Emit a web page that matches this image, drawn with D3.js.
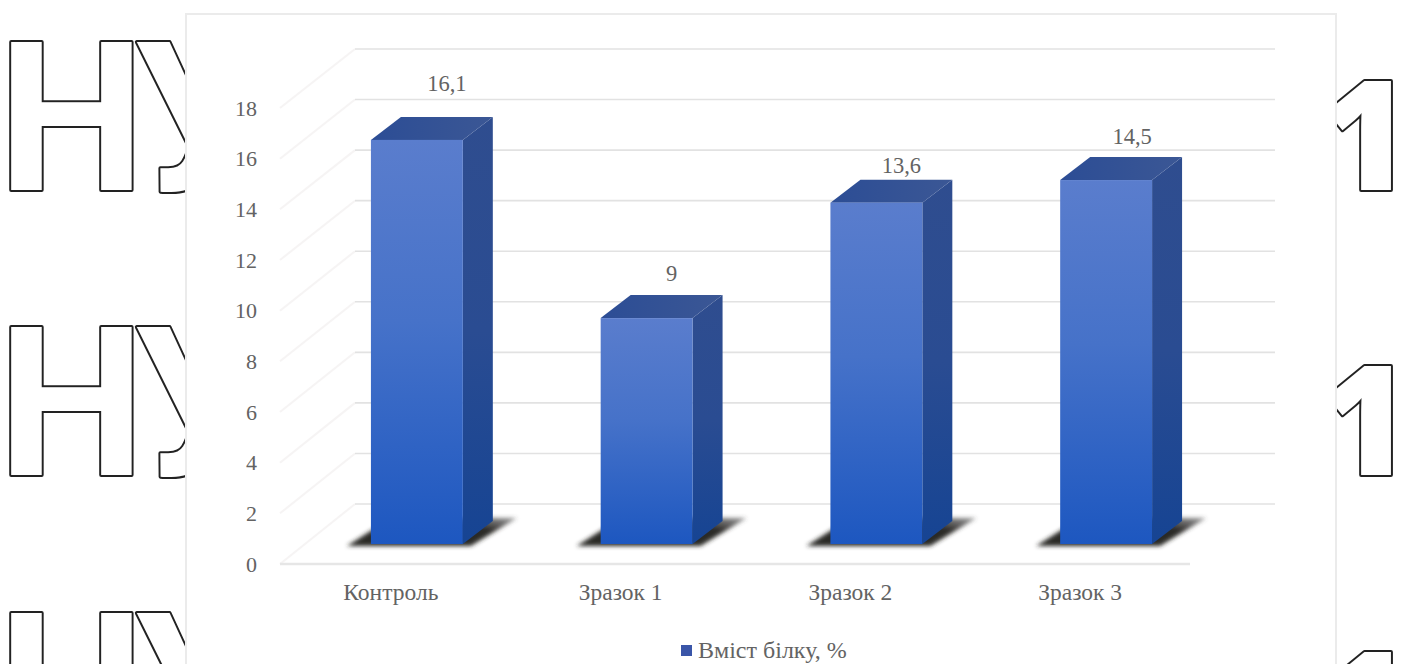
<!DOCTYPE html>
<html lang="uk">
<head>
<meta charset="utf-8">
<title>Вміст білку</title>
<script src="https://cdn.jsdelivr.net/npm/d3@7/dist/d3.min.js"></script>
<style>
  html, body { margin: 0; padding: 0; background: #fff; }
  svg { display: block; }
  text { font-family: "Liberation Serif", serif; fill: #636363; }
  .mark { font-family: Roboto, sans-serif; font-weight: 700; font-size: 208px; fill: #fff; stroke: #222; stroke-width: 4px; stroke-linejoin: round; paint-order: stroke; }
  .digit { font-family: "Open Sans", sans-serif; font-weight: 800; font-size: 152px; }
</style>
</head>
<body>
<svg id="chart" width="1407" height="664"></svg>
<script>
// Protein content per sample
const categories = ["Контроль", "Зразок 1", "Зразок 2", "Зразок 3"];
const proteinValues = [16.1, 9, 13.6, 14.5];
const valueLabels = ["16,1", "9", "13,6", "14,5"];
const tickValues = [0, 2, 4, 6, 8, 10, 12, 14, 16, 18];
const seriesName = "Вміст білку, %";

// Repeating background lettering, one row per vertical offset
const lettering = ["Н", "У", "1"];
const letteringRows = [0, 285, 571];

const svg = d3.select("#chart");
const defs = svg.append("defs");

// Three depth planes of the 3D column chart share one value domain
const yFront = d3.scaleLinear().domain([0, 18]).range([564, 108]);
const yBack = d3.scaleLinear().domain([0, 18]).range([504, 49]);
const yBar = d3.scaleLinear().domain([0, 18]).range([544, 544 - 18 * 25.1]);
const x = d3.scaleBand().domain(categories).range([302, 1221]).paddingInner(0.6).paddingOuter(0.3);

const floor = { frontLeft: 280, frontRight: 1190, backLeft: 355, backRight: 1275 };
const depth = { dx: 30, dy: -23 };

function gradient(id, stops) {
  const g = defs.append("linearGradient").attr("id", id).attr("x1", 0).attr("y1", 0).attr("x2", 0).attr("y2", 1);
  stops.forEach(([o, c]) => g.append("stop").attr("offset", o).attr("stop-color", c));
}
gradient("faceFill", [[0, "#5a7dcd"], [0.45, "#4672c9"], [1, "#1d57c0"]]);
gradient("sideFill", [[0, "#2f4d8f"], [0.5, "#2a4c92"], [1, "#164493"]]);
defs.append("linearGradient").attr("id", "topFill")
  .attr("x1", 0).attr("y1", 0).attr("x2", 1).attr("y2", 0)
  .selectAll("stop").data([[0, "#2c4d95"], [1, "#3b5795"]]).join("stop")
  .attr("offset", d => d[0]).attr("stop-color", d => d[1]);
const shade = defs.append("linearGradient").attr("id", "shadowFill")
  .attr("x1", 0).attr("y1", 1).attr("x2", 1).attr("y2", 0);
[[0, "#2c2a28", 1], [0.7, "#2c2a28", 1], [1, "#4a4a4a", 0.55]].forEach(([o, c, a]) =>
  shade.append("stop").attr("offset", o).attr("stop-color", c).attr("stop-opacity", a));
defs.append("filter").attr("id", "soft").attr("x", "-20%").attr("y", "-40%").attr("width", "140%").attr("height", "180%")
  .append("feGaussianBlur").attr("stdDeviation", 2.2);

// Background lettering, covered by the chart panel
letteringRows.forEach(offset => {
  const row = svg.append("g");
  row.append("text").attr("class", "mark").attr("x", -2).attr("y", 190 + offset).text(lettering[0]);
  row.append("text").attr("class", "mark").attr("x", 134).attr("y", 190 + offset).text(lettering[1]);
  row.append("text").attr("class", "mark digit").attr("text-anchor", "end")
    .attr("x", 1410).attr("y", 190 + offset).text(lettering[2]);
});

// Chart panel
svg.append("rect").attr("x", 186).attr("y", 14).attr("width", 1150).attr("height", 670)
  .attr("fill", "#fff").attr("stroke", "#ebebeb").attr("stroke-width", 2);

// Side wall and back wall gridlines
const grid = svg.append("g").attr("fill", "none");
grid.selectAll("path").data(tickValues).join("path")
  .attr("d", d => d3.line()([[floor.frontLeft, yFront(d)], [floor.backLeft, yBack(d)]]))
  .attr("stroke", "#f6f4f4").attr("stroke-width", 2);
grid.selectAll("line").data(tickValues).join("line")
  .attr("x1", floor.backLeft).attr("x2", floor.backRight)
  .attr("y1", d => yBack(d)).attr("y2", d => yBack(d))
  .attr("stroke", "#e2e2e2").attr("stroke-width", 1.6);

// Front edge of the floor
svg.append("line").attr("x1", floor.frontLeft).attr("x2", floor.frontRight)
  .attr("y1", yFront(0)).attr("y2", yFront(0))
  .attr("stroke", "#e6e6e6").attr("stroke-width", 2.5);

// Value axis labels
svg.append("g").selectAll("text").data(tickValues).join("text")
  .attr("x", 257).attr("y", d => yFront(d)).attr("dy", "0.35em")
  .attr("text-anchor", "end").style("font-size", "22px").text(d => d);

// Columns
const bars = svg.append("g").selectAll("g").data(categories.map((c, i) => ({ c, v: proteinValues[i], label: valueLabels[i] }))).join("g");
const bw = x.bandwidth();

// Ground shadow, running out past the front-left and back-right corners
bars.append("path")
  .attr("d", d => {
    const l = x(d.c), b = yBar(0);
    return d3.line()([[l - 24, b + 2], [l + bw + 8, b + 2], [l + bw + depth.dx + 24, b - 26], [l + 20, b - 26]]) + "Z";
  })
  .attr("fill", "url(#shadowFill)").attr("filter", "url(#soft)");

bars.append("path")
  .attr("d", d => {
    const l = x(d.c) + bw, t = yBar(d.v), b = yBar(0);
    return d3.line()([[l, t], [l + depth.dx, t + depth.dy], [l + depth.dx, b + depth.dy], [l, b]]) + "Z";
  })
  .attr("fill", "url(#sideFill)");

bars.append("path")
  .attr("d", d => {
    const l = x(d.c), t = yBar(d.v);
    return d3.line()([[l, t], [l + depth.dx, t + depth.dy], [l + bw + depth.dx, t + depth.dy], [l + bw, t]]) + "Z";
  })
  .attr("fill", "url(#topFill)");

bars.append("rect")
  .attr("x", d => x(d.c)).attr("y", d => yBar(d.v))
  .attr("width", bw).attr("height", d => yBar(0) - yBar(d.v))
  .attr("fill", "url(#faceFill)");

// Value labels sit above the back edge of each column's top
const labelGap = [34, 22, 15, 21];
const labelNudge = [4, -1, -1, 0];
bars.append("text")
  .attr("x", (d, i) => x(d.c) + bw / 2 + 26 + labelNudge[i])
  .attr("y", (d, i) => yBar(d.v) + depth.dy - labelGap[i])
  .attr("dy", "0.35em").attr("text-anchor", "middle")
  .style("font-size", "22.5px").text(d => d.label);

// Category labels follow the front edge, left of the column centres
const labelShift = -26;
svg.append("g").selectAll("text").data(categories).join("text")
  .attr("x", d => x(d) + bw / 2 + labelShift).attr("y", 592).attr("dy", "0.35em")
  .attr("text-anchor", "middle").style("font-size", "23.5px").text(d => d);

// Legend
const legend = svg.append("g");
legend.append("rect").attr("x", 681).attr("y", 645).attr("width", 11).attr("height", 11).attr("fill", "#3a55a8");
legend.append("text").attr("x", 698).attr("y", 650).attr("dy", "0.35em").style("font-size", "24px").text(seriesName);
</script>
</body>
</html>
